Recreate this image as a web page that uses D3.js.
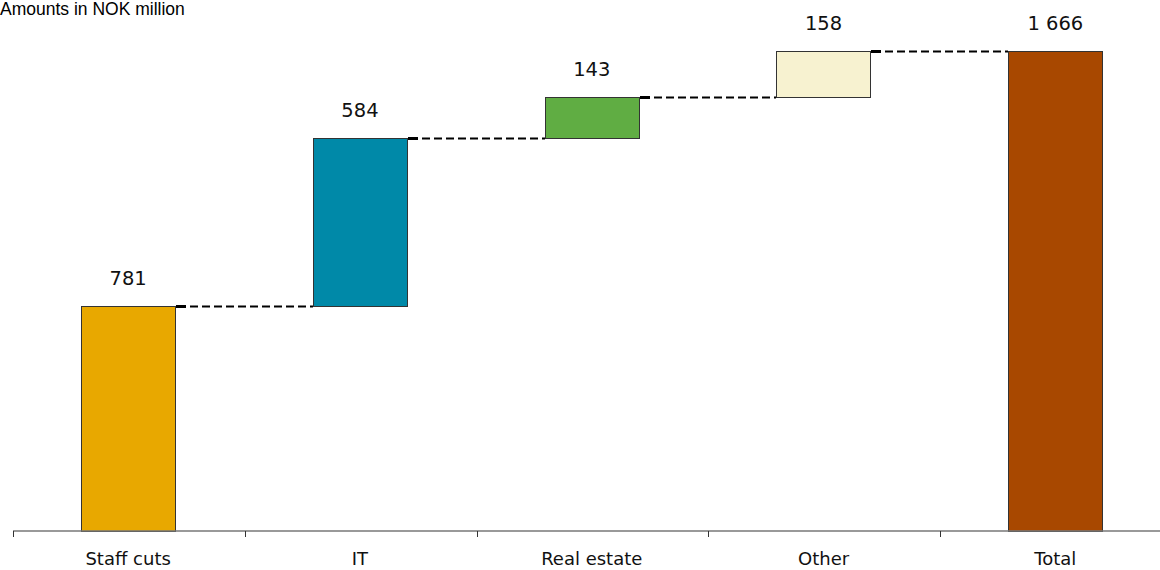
<!DOCTYPE html>
<html><head><meta charset="utf-8">
<script src="https://cdn.jsdelivr.net/npm/d3@7"></script>
<style>body{margin:0;background:#fff}</style>
</head><body>
<svg id="c" width="1160" height="570"></svg>
<script>
const categories = ["Staff cuts", "IT", "Real estate", "Other", "Total"];
const values = [781, 584, 143, 158, 1666];
const labels = ["781", "584", "143", "158", "1 666"];
const isTotal = [false, false, false, false, true];
const colors = ["#E8A800", "#0089A8", "#60AD43", "#F7F2D0", "#A84800"];

const svg = d3.select("#c");
const x = d3.scaleBand().domain(categories).range([13, 1170.5]).paddingInner(0.594).paddingOuter(0.2937);
const y = d3.scaleLinear().domain([0, 1666]).range([531, 51]);

let cum = 0;
const bars = categories.map((c, i) => {
  let y0, y1;
  if (isTotal[i]) { y0 = 0; y1 = values[i]; cum = values[i]; }
  else { y0 = cum; y1 = cum + values[i]; cum = y1; }
  return {c, y0, y1, v: values[i], label: labels[i], color: colors[i]};
});

// connectors
for (let i = 0; i < bars.length - 1; i++) {
  const xs = Math.round(x(bars[i].c)) + Math.round(x.bandwidth()) + 1;
  const xe = Math.round(x(bars[i+1].c));
  const yy = Math.round(y(bars[i].y1)) + 0.5;
  svg.append("line").attr("x1", xs).attr("x2", xs + 10).attr("y1", yy).attr("y2", yy)
    .attr("stroke", "#000").attr("stroke-width", 3);
  svg.append("line").attr("x1", xs + 14).attr("x2", xe).attr("y1", yy).attr("y2", yy)
    .attr("stroke", "#000").attr("stroke-width", 2).attr("stroke-dasharray", "8,4");
}

svg.selectAll("rect.bar").data(bars).join("rect").attr("class", "bar")
  .attr("x", d => Math.round(x(d.c)) + 0.5)
  .attr("y", d => Math.round(y(d.y1)) + 0.5)
  .attr("width", Math.round(x.bandwidth()))
  .attr("height", d => Math.round(y(d.y0)) - Math.round(y(d.y1)))
  .attr("fill", d => d.color)
  .attr("stroke", "#333").attr("stroke-width", 1);

svg.selectAll("text.val").data(bars).join("text").attr("class", "val")
  .attr("x", d => x(d.c) + x.bandwidth() / 2)
  .attr("y", d => y(d.y1) - 21)
  .attr("text-anchor", "middle")
  .attr("font-family", "DejaVu Sans, Verdana, sans-serif")
  .attr("font-size", 19.5).attr("fill", "#111")
  .text(d => d.label);

// axis
const ax = svg.append("g").attr("transform", "translate(0,531)");
ax.append("line").attr("x1", 13).attr("x2", 1160).attr("y1", 0).attr("y2", 0)
  .attr("stroke", "#777").attr("stroke-width", 1.5);
const step = x.step();
const tickPos = d3.range(categories.length + 1).map(i => 13 + i * step);
ax.selectAll("line.tick").data(tickPos).join("line").attr("class", "tick")
  .attr("x1", d => Math.round(d) + 0.5).attr("x2", d => Math.round(d) + 0.5)
  .attr("y1", 0).attr("y2", 6).attr("stroke", "#333").attr("stroke-width", 1);
ax.selectAll("text").data(categories).join("text")
  .attr("x", d => x(d) + x.bandwidth() / 2).attr("y", 34)
  .attr("text-anchor", "middle")
  .attr("font-family", "DejaVu Sans, Verdana, sans-serif")
  .attr("font-size", 18).attr("fill", "#111")
  .text(d => d);

svg.append("text").attr("x", 0).attr("y", 15)
  .attr("font-family", "Liberation Sans, Arial, sans-serif")
  .attr("font-size", 17.5).attr("fill", "#000")
  .text("Amounts in NOK million");
</script>
</body></html>
